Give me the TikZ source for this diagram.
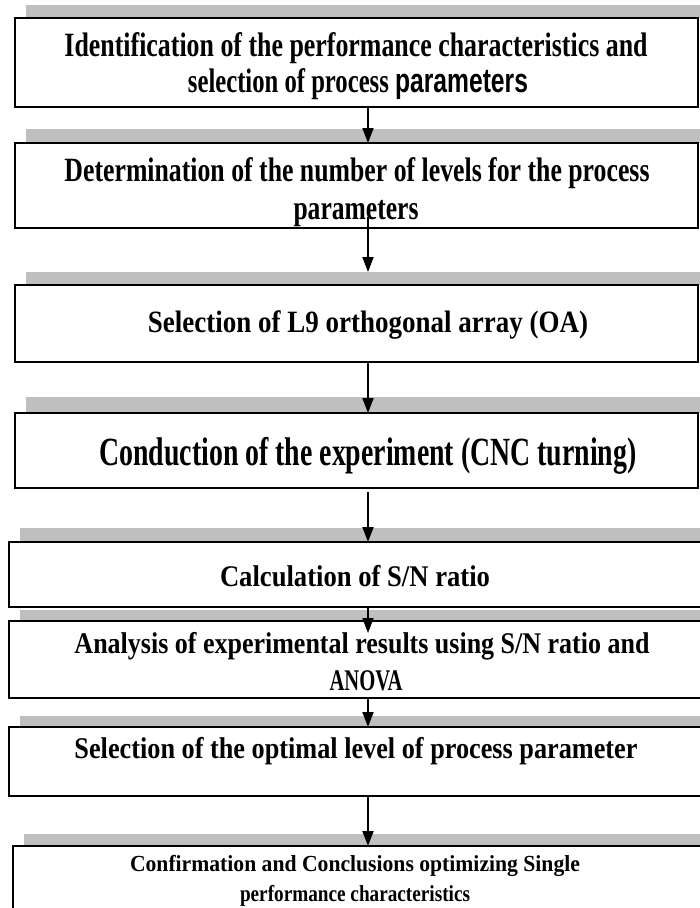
\documentclass[tikz,border=0pt]{standalone}
\usepackage{fontspec}
\setmainfont{Liberation Serif}
\newfontfamily\sansf{Liberation Sans}
\usetikzlibrary{arrows.meta,calc}
\tikzset{
  box/.style={draw=black, fill=white, line width=2pt, rectangle, anchor=north west, inner sep=0pt, outer sep=0pt},
  bar/.style={fill=black!25},
  arr/.style={line width=1.8pt, -{Triangle[length=15pt,width=11pt]}},
  txt/.style={anchor=base, inner sep=0pt, outer sep=0pt}
}
\newcommand{\fitline}[3]{\resizebox{#1pt}{\height}{\fontsize{#2}{#2}\selectfont\bfseries #3}}
\begin{document}
\begin{tikzpicture}[x=1pt,y=-1pt]
\useasboundingbox (0,0) rectangle (700,908);
\clip (0,0) rectangle (700,908);
\fill[white] (0,0) rectangle (700,908);
% shadow bars
\fill[bar] (26,5) rectangle (700,18);
\fill[bar] (26,129) rectangle (700,143);
\fill[bar] (26,272) rectangle (700,285);
\fill[bar] (26,397) rectangle (700,413);
\fill[bar] (20,528) rectangle (700,542);
\fill[bar] (20,610) rectangle (700,621);
\fill[bar] (20,716) rectangle (700,727);
\fill[bar] (24,834) rectangle (700,846);
% boxes
\node[box, minimum width=683pt, minimum height=89pt] (b1) at (15,18) {};
\node[box, minimum width=683pt, minimum height=85pt] (b2) at (15,143) {};
\node[box, minimum width=683pt, minimum height=77pt] (b3) at (15,285) {};
\node[box, minimum width=683pt, minimum height=75pt] (b4) at (15,413) {};
\node[box, minimum width=701pt, minimum height=65pt] (b5) at (9,542) {};
\node[box, minimum width=701pt, minimum height=77pt] (b6) at (9,621) {};
\node[box, minimum width=701pt, minimum height=69pt] (b7) at (9,727) {};
\node[box, minimum width=697pt, minimum height=80pt] (b8) at (13,846) {};
% texts
\node[txt] (t1a) at (356,56) {\fitline{583}{34}{Identification of the performance characteristics and}};
\node[txt] (t1b) at (358,92) {\fitline{340}{34}{selection of process {\sansf parameters}}};
\node[txt] (t2a) at (357,181) {\fitline{585}{34}{Determination of the number of levels for the process}};
\node[txt] (t2b) at (356,219) {\fitline{125}{34}{parameters}};
\node[txt] (t3) at (368,332) {\fitline{440}{31}{Selection of L9 orthogonal array (OA)}};
\node[txt] (t4) at (368,465) {\fitline{537}{40}{Conduction of the experiment (CNC turning)}};
\node[txt] (t5) at (355,586) {\fitline{270}{30}{Calculation of S/N ratio}};
\node[txt] (t6a) at (362,653) {\fitline{575}{30}{Analysis of experimental results using S/N ratio and}};
\node[txt] (t6b) at (366,690) {\fitline{73}{30}{ANOVA}};
\node[txt] (t7) at (356,758) {\fitline{563}{30}{Selection of the optimal level of process parameter}};
\node[txt] (t8a) at (355,871) {\fitline{450}{23}{Confirmation and Conclusions optimizing Single}};
\node[txt] (t8b) at (355,901) {\fitline{230}{23}{performance characteristics}};
% arrows
\coordinate (ax) at (368,0);
\draw[arr] (b1.south -| ax) -- (b2.north -| ax);
\draw[arr] ($(b2.south -| ax)+(0pt,11pt)$) -- ($(b3.north -| ax)+(0pt,13pt)$);
\draw[arr] (b3.south -| ax) -- (b4.north -| ax);
\draw[arr] ($(b4.south -| ax)+(0pt,-4pt)$) -- (b5.north -| ax);
\draw[arr] (b5.south -| ax) -- ($(b6.north -| ax)+(0pt,-12pt)$);
\draw[arr] (b6.south -| ax) -- (b7.north -| ax);
\draw[arr] (b7.south -| ax) -- (b8.north -| ax);
\end{tikzpicture}
\end{document}
